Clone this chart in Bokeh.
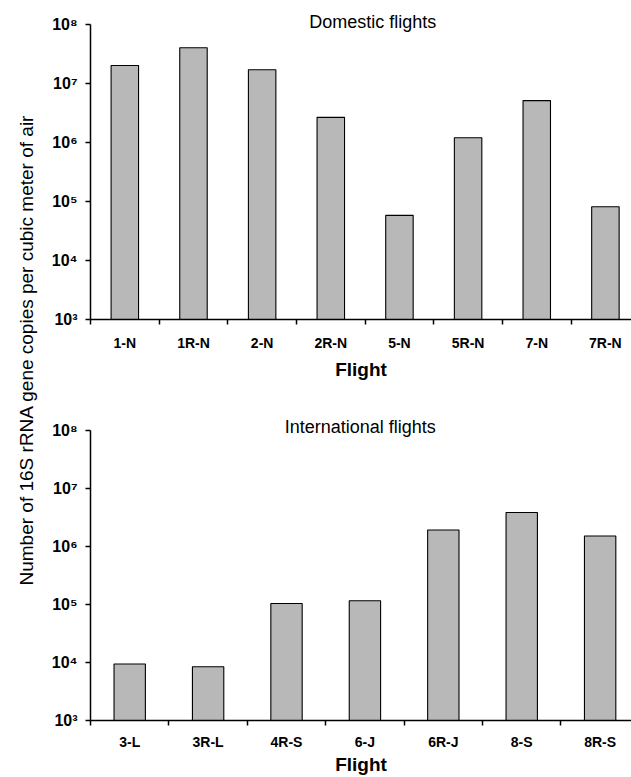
import math
from bokeh.plotting import figure
from bokeh.models import Range1d, FixedTicker, Label, ColumnDataSource
from bokeh.layouts import row, column
from bokeh.embed import file_html
from bokeh.resources import INLINE

# ---- data ----
dom_flights = ["1-N", "1R-N", "2-N", "2R-N", "5-N", "5R-N", "7-N", "7R-N"]
dom_values = [2.0e7, 4.0e7, 1.7e7, 2.65e6, 5.8e4, 1.2e6, 5.1e6, 8.1e4]

int_flights = ["3-L", "3R-L", "4R-S", "6-J", "6R-J", "8-S", "8R-S"]
int_values = [9.4e3, 8.4e3, 1.03e5, 1.15e5, 1.9e6, 3.8e6, 1.5e6]

y_ticks = [10**3, 10**4, 10**5, 10**6, 10**7, 10**8]
y_tick_labels = ["10³", "10⁴", "10⁵", "10⁶", "10⁷", "10⁸"]

y_label = "Number of 16S rRNA gene copies per cubic meter of air"
x_label = "Flight"
titles = ["Domestic flights", "International flights"]

FONT = "Liberation Sans"
BAR = "#b8b8b8"
Y_TOP = 10 ** 8.25  # headroom above the axis for the panel title


def panel(flights, values, title, title_x, x_end, height, min_left, min_top,
          min_bottom, label_standoff, axis_standoff, title_offset):
    p = figure(width=591, height=height, y_axis_type="log",
               x_range=Range1d(0, x_end), y_range=Range1d(y_ticks[0], Y_TOP),
               output_backend="svg", toolbar_location=None,
               min_border_left=min_left, min_border_right=0,
               min_border_top=min_top, min_border_bottom=min_bottom)
    p.outline_line_color = None
    p.grid.visible = False
    p.background_fill_color = "white"
    p.border_fill_color = "white"

    centers = [i + 0.5 for i in range(len(flights))]
    src = ColumnDataSource(dict(x=centers, top=values, name=flights))
    p.vbar(x="x", top="top", bottom=y_ticks[0], width=0.4, source=src,
           fill_color=BAR, line_color="black", line_width=1.1)

    xa = p.xaxis[0]
    xa.ticker = FixedTicker(ticks=centers, minor_ticks=list(range(len(flights) + 1)))
    xa.major_label_overrides = {c: f for c, f in zip(centers, flights)}
    xa.major_tick_line_color = None
    xa.major_tick_in = 0
    xa.major_tick_out = 0
    xa.minor_tick_line_color = "black"
    xa.minor_tick_line_width = 1.5
    xa.minor_tick_in = 0
    xa.minor_tick_out = 5
    xa.axis_line_color = "black"
    xa.axis_line_width = 1.5
    xa.major_label_text_font = FONT
    xa.major_label_text_font_size = "14px"
    xa.major_label_text_font_style = "bold"
    xa.major_label_text_color = "black"
    xa.major_label_standoff = label_standoff
    xa.axis_label = x_label
    xa.axis_label_text_font = FONT
    xa.axis_label_text_font_size = "19px"
    xa.axis_label_text_font_style = "bold"
    xa.axis_label_text_color = "black"
    xa.axis_label_standoff = axis_standoff

    ya = p.yaxis[0]
    ya.ticker = FixedTicker(ticks=y_ticks, minor_ticks=[])
    ya.bounds = (y_ticks[0], y_ticks[-1])
    ya.major_label_overrides = {t: l for t, l in zip(y_ticks, y_tick_labels)}
    ya.major_tick_line_color = "black"
    ya.major_tick_line_width = 1.5
    ya.major_tick_in = 0
    ya.major_tick_out = 5
    ya.minor_tick_line_color = None
    ya.axis_line_color = "black"
    ya.axis_line_width = 1.5
    ya.major_label_text_font = FONT
    ya.major_label_text_font_size = "16px"
    ya.major_label_text_font_style = "bold"
    ya.major_label_text_color = "black"
    ya.major_label_standoff = 8

    p.add_layout(Label(x=title_x, y=y_ticks[-1], text=title, text_font=FONT,
                       text_font_size="18px", text_color="black",
                       text_align="center", text_baseline="bottom",
                       y_offset=title_offset))
    return p


p1 = panel(dom_flights, dom_values, titles[0], 4.11, 7.88, 400, 50, 9, 81, 10, 5, -8)
p2 = panel(int_flights, int_values, titles[1], 3.44, 6.90, 377, 48, 15, 54, 8, 1, -7)

# shared y label
p0 = figure(width=40, height=777, x_range=Range1d(0, 40), y_range=Range1d(0, 777),
            output_backend="svg", toolbar_location=None,
            x_axis_location=None, y_axis_location=None,
            min_border=0)
p0.outline_line_color = None
p0.grid.visible = False
p0.add_layout(Label(x=26, y=427.5, text=y_label, angle=math.pi / 2,
                    text_font=FONT, text_font_size="19px", text_color="black",
                    text_align="center", text_baseline="alphabetic"))

layout = row(p0, column(p1, p2))
open("out.html", "w").write(file_html(layout, INLINE))
